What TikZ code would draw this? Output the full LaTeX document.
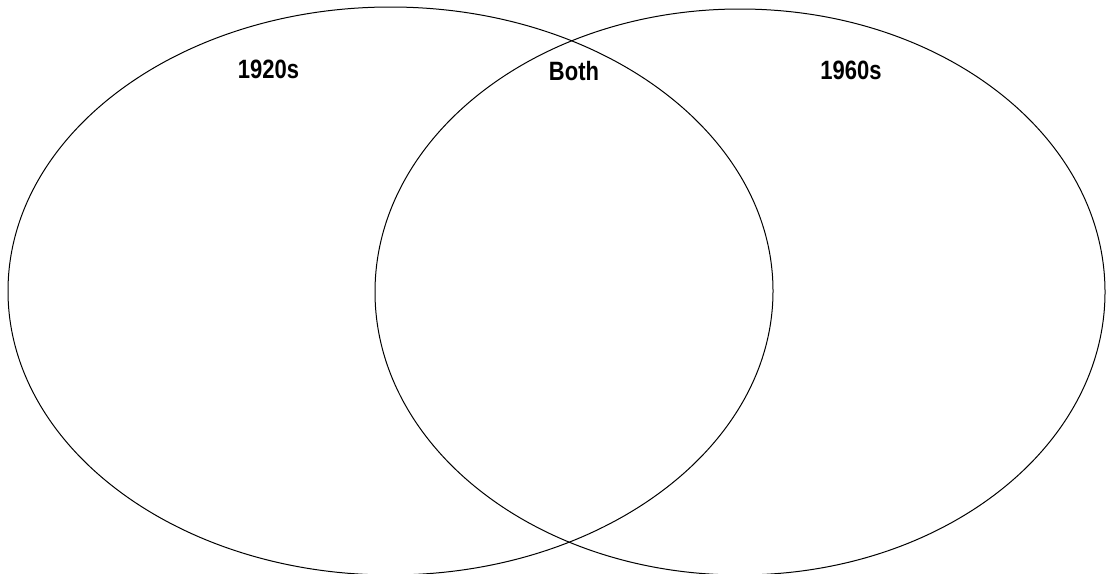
\documentclass[tikz,border=0pt]{standalone}
\usepackage{fontspec}
\setmainfont{Liberation Sans}[FakeStretch=0.83]
\begin{document}
\begin{tikzpicture}[x=1pt,y=-1pt,
  setline/.style={draw=black,line width=1pt},
  setlabel/.style={font=\bfseries\fontsize{26.5}{30}\selectfont,inner sep=0pt,anchor=base}]
\useasboundingbox (0,0) rectangle (1107,573);
\clip (0,0) rectangle (1107,573);
\fill[white] (0,0) rectangle (1107,573);
\draw[setline] (390.5,291) ellipse [x radius=382.5pt, y radius=284pt];
\draw[setline] (740,292) ellipse [x radius=365pt, y radius=283pt];
\node[setlabel] (l1920) at (268.5,78.5) {1920s};
\node[setlabel] (lboth) at (574,80) {Both};
\node[setlabel] (l1960) at (851,79) {1960s};
\end{tikzpicture}
\end{document}
